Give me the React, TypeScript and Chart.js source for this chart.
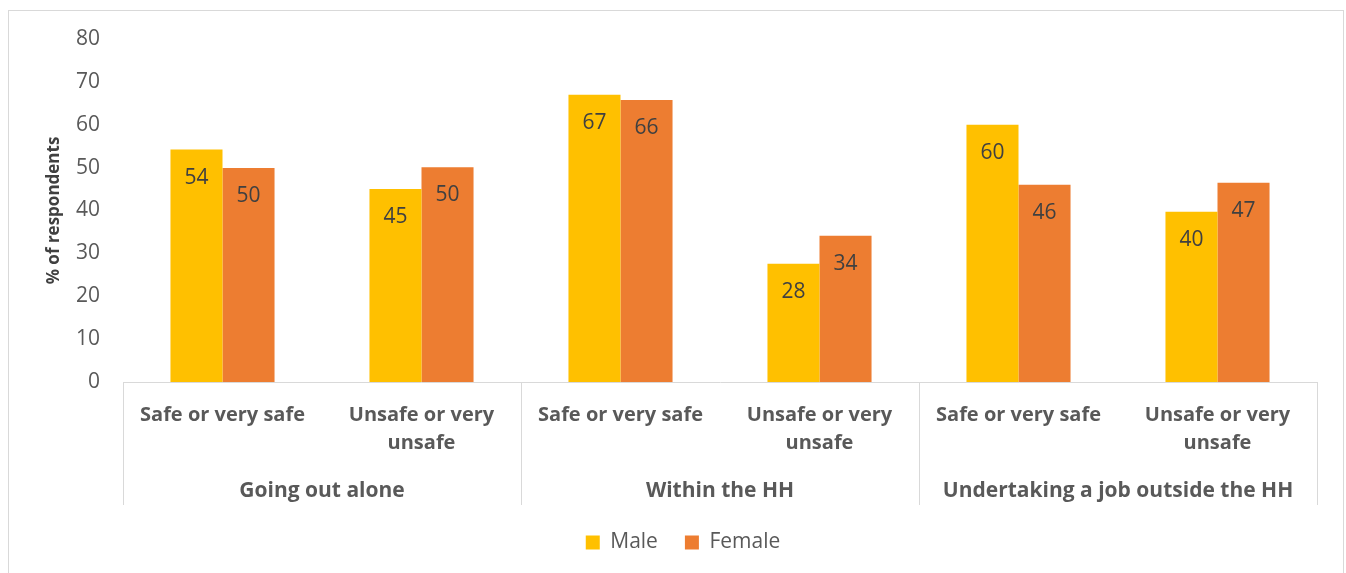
import React, { useEffect, useRef } from "react";
import { Chart, registerables } from "chart.js";

Chart.register(...registerables);

const subCategories: string[][] = [
  ["Safe or very safe"],
  ["Unsafe or very", "unsafe"],
  ["Safe or very safe"],
  ["Unsafe or very", "unsafe"],
  ["Safe or very safe"],
  ["Unsafe or very", "unsafe"],
];
const groupLabels = ["Going out alone", "Within the HH", "Undertaking a job outside the HH"];
const groupSizes = [2, 2, 2];
const maleValues = [54.2, 45, 67, 27.6, 60, 39.7];
const femaleValues = [49.9, 50.1, 65.8, 34.1, 46, 46.5];
const seriesNames = ["Male", "Female"];
const seriesColors = ["#FFC000", "#ED7D31"];
const yMin = 0;
const yMax = 80;
const yStep = 10;
const yTitle = "% of respondents";

const FONT = "'Open Sans', 'DejaVu Sans', sans-serif";
const AXIS_COLOR = "#595959";
const LINE_COLOR = "#D9D9D9";

const dataLabelPlugin = {
  id: "dataLabels",
  afterDatasetsDraw(chart: any) {
    const ctx = chart.ctx;
    ctx.save();
    ctx.font = `21px ${FONT}`;
    ctx.fillStyle = "#404040";
    ctx.textAlign = "center";
    ctx.textBaseline = "middle";
    chart.data.datasets.forEach((ds: any, di: number) => {
      const meta = chart.getDatasetMeta(di);
      meta.data.forEach((bar: any, i: number) => {
        const v = ds.data[i];
        ctx.fillText(String(Math.round(v)), bar.x, bar.y + 28);
      });
    });
    ctx.restore();
  },
};

const groupAxisPlugin = {
  id: "groupAxis",
  afterDraw(chart: any) {
    const ctx = chart.ctx;
    const xs = chart.scales.x;
    const n = chart.data.labels.length;
    const catW = (xs.right - xs.left) / n;
    const top = chart.chartArea.bottom;
    const bottom = top + 123;
    ctx.save();
    ctx.strokeStyle = LINE_COLOR;
    ctx.lineWidth = 1;
    let start = 0;
    const bounds: number[] = [0];
    groupSizes.forEach((s) => {
      start += s;
      bounds.push(start);
    });
    bounds.forEach((b) => {
      const x = Math.round(xs.left + catW * b) + 0.5;
      ctx.beginPath();
      ctx.moveTo(x, top);
      ctx.lineTo(x, bottom);
      ctx.stroke();
    });
    ctx.font = `bold 21px ${FONT}`;
    ctx.fillStyle = AXIS_COLOR;
    ctx.textAlign = "center";
    ctx.textBaseline = "middle";
    groupLabels.forEach((g, i) => {
      const cx = xs.left + catW * (bounds[i] + bounds[i + 1]) / 2;
      ctx.fillText(g, cx, top + 109);
    });
    ctx.restore();
  },
};

export default function App() {
  const ref = useRef<HTMLCanvasElement | null>(null);
  useEffect(() => {
    if (!ref.current) return;
    const chart = new Chart(ref.current, {
      type: "bar",
      data: {
        labels: subCategories,
        datasets: [
          {
            label: seriesNames[0],
            data: maleValues,
            backgroundColor: seriesColors[0],
            borderWidth: 0,
            categoryPercentage: 0.523,
            barPercentage: 1,
          },
          {
            label: seriesNames[1],
            data: femaleValues,
            backgroundColor: seriesColors[1],
            borderWidth: 0,
            categoryPercentage: 0.523,
            barPercentage: 1,
          },
        ],
      },
      options: {
        animation: false,
        responsive: true,
        maintainAspectRatio: false,
        layout: { padding: { top: 39, left: 49, right: 29, bottom: 10 } },
        plugins: {
          legend: {
            position: "bottom",
            labels: {
              boxWidth: 14,
              boxHeight: 14,
              padding: 27,
              color: AXIS_COLOR,
              font: { family: FONT, size: 21 },
            },
          },
          tooltip: { enabled: false },
        },
        scales: {
          x: {
            grid: { display: false, drawTicks: false },
            border: { display: true, color: LINE_COLOR, width: 1 },
            ticks: {
              color: AXIS_COLOR,
              font: { family: FONT, size: 20, weight: "bold", lineHeight: 1.4 },
              maxRotation: 0,
              minRotation: 0,
              autoSkip: false,
              padding: 19,
            },
            afterFit(scale: any) {
              scale.height = 123;
            },
          },
          y: {
            min: yMin,
            max: yMax,
            grid: { display: false, drawTicks: false },
            border: { display: false },
            ticks: {
              stepSize: yStep,
              color: AXIS_COLOR,
              font: { family: FONT, size: 21 },
              padding: 23,
            },
            title: {
              display: true,
              text: yTitle,
              color: "#404040",
              font: { family: FONT, size: 17, weight: "bold" },
              padding: { top: -5, bottom: 0 },
            },
            afterFit(scale: any) {
              scale.width = 74;
            },
          },
        },
      },
      plugins: [dataLabelPlugin, groupAxisPlugin],
    });
    return () => chart.destroy();
  }, []);

  return (
    <div
      style={{
        position: "absolute",
        left: 0,
        top: 0,
        width: 1346,
        height: 573,
        overflow: "hidden",
        background: "#FFFFFF",
      }}
    >
      <div
        style={{
          position: "absolute",
          left: 8,
          top: 10,
          width: 1336,
          height: 580,
          border: `1px solid ${LINE_COLOR}`,
          boxSizing: "border-box",
        }}
      />
      <div style={{ position: "absolute", left: 0, top: 0, width: 1346, height: 573 }}>
        <canvas ref={ref} />
      </div>
    </div>
  );
}
